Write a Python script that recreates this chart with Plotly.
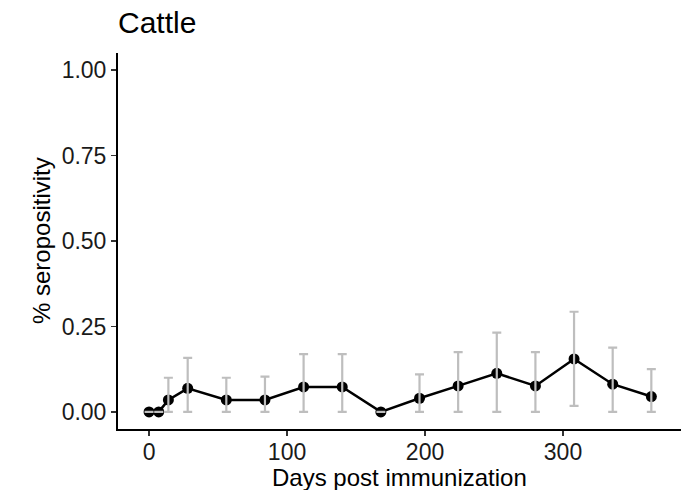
import plotly.graph_objects as go

# Data
days = [0, 7, 14, 28, 56, 84, 112, 140, 168, 196, 224, 252, 280, 308, 336, 364]
seropos = [0.0, 0.0, 0.035, 0.069, 0.035, 0.035, 0.073, 0.073, 0.0,
           0.040, 0.076, 0.113, 0.076, 0.155, 0.081, 0.045]
upper = [0.0, 0.0, 0.100, 0.158, 0.100, 0.103, 0.169, 0.169, 0.0,
         0.110, 0.175, 0.232, 0.175, 0.293, 0.188, 0.125]
lower = [0.0, 0.0, 0.0, 0.0, 0.0, 0.0, 0.0, 0.0, 0.0,
         0.0, 0.0, 0.0, 0.0, 0.0175, 0.0, 0.0]

x_ticks = [0, 100, 200, 300]
y_ticks = [0, 0.25, 0.5, 0.75, 1.0]
y_ticklabels = ["0.00", "0.25", "0.50", "0.75", "1.00"]

err_plus = [u - v for u, v in zip(upper, seropos)]
err_minus = [v - l for v, l in zip(seropos, lower)]

FONT = "Liberation Sans, Arial, Helvetica, sans-serif"

fig = go.Figure()
fig.add_trace(go.Scatter(
    x=days, y=seropos, mode="lines+markers",
    line=dict(color="black", width=2.5),
    marker=dict(color="black", size=11),
    showlegend=False, hoverinfo="skip",
))
fig.add_trace(go.Scatter(
    x=days, y=seropos, mode="markers",
    marker=dict(size=0.1, color="rgba(0,0,0,0)"),
    error_y=dict(type="data", symmetric=False, array=err_plus,
                 arrayminus=err_minus, color="#bebebe", thickness=2.2, width=4.5),
    showlegend=False, hoverinfo="skip",
))

fig.update_layout(
    width=690, height=490,
    margin=dict(l=118, r=9, t=53, b=61, autoexpand=False),
    paper_bgcolor="white", plot_bgcolor="white",
    font=dict(family=FONT, color="black"),
    hovermode=False,
    title=dict(text="Cattle", x=0, xref="paper", xanchor="left",
               y=1 - 22 / 490, yref="container", yanchor="middle",
               font=dict(size=30, color="black", family=FONT)),
    xaxis=dict(
        range=[-22.5, 385.5], tickmode="array", tickvals=x_ticks,
        showgrid=False, zeroline=False, automargin=False,
        showline=True, linecolor="black", linewidth=2,
        ticks="outside", ticklen=5, tickwidth=1.5, tickcolor="#333333",
        ticklabelstandoff=-4,
        tickfont=dict(size=23, color="#1a1a1a"),
    ),
    yaxis=dict(
        range=[-0.05, 1.05], tickmode="array", tickvals=y_ticks,
        ticktext=y_ticklabels, automargin=False,
        showgrid=False, zeroline=False,
        showline=True, linecolor="black", linewidth=2,
        ticks="outside", ticklen=5, tickwidth=1.5, tickcolor="#333333",
        tickfont=dict(size=23, color="#1a1a1a"),
    ),
    annotations=[
        dict(text="Days post immunization", xref="paper", yref="paper",
             x=(399.5 - 118) / 563, y=0, xanchor="center", yanchor="top",
             yshift=-33, showarrow=False, font=dict(size=24, color="black")),
        dict(text="% seropositivity", xref="paper", yref="paper",
             x=0, y=0.5, xanchor="center", yanchor="middle", textangle=-90,
             xshift=-77, showarrow=False, font=dict(size=24, color="black")),
    ],
)

fig.write_html(
    "out.html",
    config={"displayModeBar": False, "staticPlot": True},
    post_script="document.body.style.margin='0';document.body.style.overflow='hidden';",
)
